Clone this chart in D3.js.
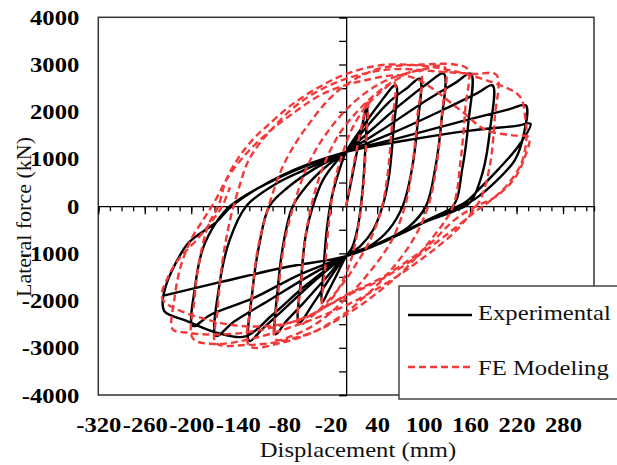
<!DOCTYPE html>
<html><head><meta charset="utf-8">
<script src="https://cdn.jsdelivr.net/npm/d3@7"></script>
<style>body{margin:0;background:#fff}</style>
</head><body><svg id="c" width="617" height="465"></svg>
<script>
const xTickLabels = [-320,-260,-200,-140,-80,-20,40,100,160,220,280];
const yTickLabels = [-4000,-3000,-2000,-1000,0,1000,2000,3000,4000];
const seriesNames = ["Experimental","FE Modeling"];

// Experimental hysteresis path [displacement mm, force kN]
const experimental = [
[0,0],[8,650],[17,1400],[27,2130],
[25,1300],[21,300],[15,-450],[7,-900],[0,-1060],[-12,-1450],[-23,-1800],[-31,-2040],
[-29,-1300],[-25,-500],[-19,150],[-10,700],[0,1150],[20,1650],[42,2150],[64,2560],
[61,1600],[55,600],[47,0],[35,-500],[18,-850],[0,-1060],[-20,-1500],[-42,-2050],[-61,-2470],
[-58,-1500],[-52,-600],[-43,0],[-30,550],[-15,900],[0,1150],[25,1650],[55,2200],[80,2520],[95,2700],
[92,1700],[84,700],[73,0],[55,-500],[30,-850],[0,-1060],[-25,-1500],[-55,-2050],[-78,-2450],[-91,-2715],
[-88,-1700],[-80,-700],[-69,0],[-50,450],[-25,850],[0,1150],[35,1650],[70,2150],[105,2600],[126,2806],
[123,1800],[115,800],[103,0],[80,-450],[45,-760],[0,-1060],[-35,-1500],[-75,-2100],[-108,-2600],[-125,-2855],
[-121,-1800],[-112,-800],[-99,0],[-75,400],[-40,800],[0,1150],[45,1600],[95,2150],[140,2600],[161,2806],
[158,1800],[150,800],[138,0],[100,-350],[50,-740],[0,-1060],[-45,-1450],[-100,-2000],[-145,-2450],[-168,-2750],
[-164,-1700],[-150,-700],[-129,0],[-90,480],[-45,830],[0,1150],[60,1550],[120,2000],[170,2400],[189,2558],
[186,1650],[176,700],[160,80],[140,-100],[100,-350],[50,-740],[0,-1060],[-60,-1450],[-120,-1950],[-175,-2300],[-198,-2537],
[-195,-1700],[-185,-900],[-168,-350],[-150,0],[-82,640],[0,1150],[70,1450],[150,1800],[210,2050],[232,2134],
[229,1500],[218,980],[195,550],[168,170],[150,0],[90,-414],[47,-768],[0,-1060],[-50,-1650],[-95,-2300],[-130,-2760],[-165,-2690],[-206,-2430],[-234,-2240],
[-237,-2060],[-233,-1700],[-224,-1334],[-203,-768],[-168,-343],[-147,10],[-82,660],[0,1150],[80,1400],[160,1600],[220,1700],[238,1745],
[223,1285],[197,789],[172,365],[154,82],[130,-100],[90,-414],[47,-768],[0,-1060],[-80,-1300],[-160,-1600],[-237,-1900]
];

// FE model hysteresis path [displacement mm, force kN]
const feModeling = [
[0,0],[10,900],[20,1700],[28,2250],
[26,1400],[22,400],[16,-400],[7,-1100],[-5,-1600],[-18,-1950],[-30,-2150],
[-27,-1300],[-22,-300],[-15,500],[-5,1100],[8,1650],[25,2100],[45,2420],[62,2620],
[59,1700],[53,600],[45,-100],[30,-750],[12,-1250],[0,-1550],[-20,-1950],[-42,-2300],[-61,-2520],
[-58,-1600],[-52,-600],[-42,200],[-28,900],[-8,1550],[20,2100],[55,2580],[95,2860],
[92,1900],[85,800],[76,0],[58,-750],[30,-1400],[0,-1950],[-35,-2450],[-70,-2750],[-91,-2820],
[-88,-1900],[-80,-800],[-68,0],[-50,850],[-25,1550],[10,2200],[50,2650],[100,2900],[127,2950],
[124,2000],[117,900],[106,0],[85,-750],[50,-1500],[15,-2050],[0,-2250],[-40,-2650],[-85,-2900],[-125,-2960],
[-122,-2000],[-114,-900],[-100,0],[-80,900],[-50,1700],[-10,2450],[40,2900],[100,3000],[140,3000],[157,2900],
[154,2100],[148,1000],[138,0],[110,-700],[75,-1350],[35,-1900],[0,-2300],[-40,-2650],[-90,-2880],[-130,-2940],[-168,-2900],
[-166,-2200],[-160,-1200],[-150,-300],[-140,300],[-125,1000],[-95,1650],[-55,2250],[0,2700],[60,2900],[120,2850],[165,2800],[194,2780],
[192,1900],[186,900],[175,200],[168,0],[140,-550],[95,-1150],[50,-1650],[0,-2100],[-60,-2500],[-120,-2800],[-170,-2920],[-198,-2800],
[-196,-2000],[-190,-1200],[-178,-400],[-165,0],[-155,555],[-138,1049],[-120,1420],[-103,1684],[-70,2150],[-34,2530],[0,2800],[47,2990],[110,2950],[165,2750],[205,2520],[220,2392],[227,2250],
[231,1900],[233,1470],[226,900],[208,450],[185,100],[168,-100],[130,-600],[80,-1200],[40,-1600],[0,-1900],[-60,-2400],[-120,-2650],[-170,-2720],[-205,-2680],[-224,-2608],
[-222,-2000],[-214,-1300],[-200,-700],[-183,-250],[-168,150],[-155,550],[-135,1000],[-105,1500],[-70,1950],[-30,2380],[20,2650],[82,2744],[147,2038],[180,1614],[215,1500],[236,1460],
[232,1100],[218,600],[193,200],[168,0],[140,-290],[104,-858],[48,-1494],[0,-1881],[-60,-2411],[-120,-2550],[-180,-2400],[-237,-1970],
[-230,-1500],[-215,-1100],[-195,-750],[-175,-350],[-160,0],[-150,400]
];

const svg = d3.select("#c");
const L = 98.3, R = 594, T = 17.3, B = 395;
const x = d3.scaleLinear().domain([-320,320]).range([L,R]);
const y = d3.scaleLinear().domain([-4000,4000]).range([B,T]);
const serif = "'Liberation Serif','Times New Roman',serif";
const STRETCH = 1.12;
function stretch(sel){
  sel.each(function(){
    const w = this.getComputedTextLength();
    d3.select(this).attr("textLength", w*STRETCH).attr("lengthAdjust","spacingAndGlyphs");
  });
}

// plot border
svg.append("rect").attr("x",L).attr("y",T).attr("width",R-L).attr("height",B-T)
  .attr("fill","#fff").attr("stroke","#333").attr("stroke-width",1.5);

// x axis line at F=0 with ticks
const minorX = d3.range(-320, 321, 15);
const gxMinor = svg.append("g").attr("transform",`translate(0,${y(0)})`)
  .call(d3.axisBottom(x).tickValues(minorX).tickSize(5).tickFormat(""));
const gxMajor = svg.append("g").attr("transform",`translate(0,${y(0)})`)
  .call(d3.axisBottom(x).tickValues(xTickLabels).tickSize(8).tickFormat(""));
[gxMinor,gxMajor].forEach(g=>{g.selectAll("line").attr("stroke","#000").attr("stroke-width",1.3);});
gxMajor.select(".domain").remove();
gxMinor.select(".domain").attr("stroke","#000").attr("stroke-width",1.3);

// y axis line at d=0 with ticks
const minorY = d3.range(-4000, 4001, 500);
const gy = svg.append("g").attr("transform",`translate(${x(0)},0)`)
  .call(d3.axisLeft(y).tickValues(minorY).tickSize(7).tickFormat(""));
gy.selectAll("line").attr("stroke","#000").attr("stroke-width",1.3);
gy.select(".domain").attr("stroke","#000").attr("stroke-width",1.3);

// tick labels
const gxl = svg.append("g").attr("transform",`translate(0,${B})`)
  .call(d3.axisBottom(x).tickValues(xTickLabels).tickSize(0).tickPadding(21).tickFormat(d=>d));
gxl.select(".domain").remove();
gxl.selectAll("text").attr("font-family",serif).attr("font-weight","bold").attr("font-size",22).attr("fill","#000").call(stretch);

const gyl = svg.append("g").attr("transform",`translate(${L},0)`)
  .call(d3.axisLeft(y).tickValues(yTickLabels).tickSize(0).tickPadding(19).tickFormat(d=>d));
gyl.select(".domain").remove();
gyl.selectAll("text").attr("font-family",serif).attr("font-weight","bold").attr("font-size",22).attr("fill","#000").call(stretch);

// curves
const line = d3.line().x(d=>x(d[0])).y(d=>y(d[1])).curve(d3.curveCatmullRom.alpha(0.5));
svg.append("path").datum(experimental).attr("d",line).attr("fill","none")
  .attr("stroke","#000").attr("stroke-width",2.4).attr("stroke-linejoin","round");
svg.append("path").datum(feModeling).attr("d",line).attr("fill","none")
  .attr("stroke","#f23a3a").attr("stroke-width",2.4).attr("stroke-dasharray","7,4");

// axis titles
svg.append("text").attr("x",358).attr("y",457).attr("text-anchor","middle")
  .attr("font-family",serif).attr("font-size",22).attr("fill","#111").text("Displacement (mm)").call(stretch);
svg.append("text").attr("transform","translate(31,217) rotate(-90)").attr("text-anchor","middle")
  .attr("font-family",serif).attr("font-size",22).attr("fill","#111").text("Lateral force (kN)");

// legend
const lg = svg.append("g");
lg.append("rect").attr("x",399).attr("y",286).attr("width",230).attr("height",113)
  .attr("fill","#fff").attr("stroke","#444").attr("stroke-width",1.5);
lg.append("line").attr("x1",408).attr("x2",472).attr("y1",315).attr("y2",315)
  .attr("stroke","#000").attr("stroke-width",2.4);
lg.append("line").attr("x1",408).attr("x2",472).attr("y1",367).attr("y2",367)
  .attr("stroke","#f23a3a").attr("stroke-width",2.4).attr("stroke-dasharray","7,4");
lg.append("text").attr("x",478).attr("y",320).attr("font-family",serif).attr("font-size",22).attr("fill","#111").text(seriesNames[0]).call(stretch);
lg.append("text").attr("x",478).attr("y",375).attr("font-family",serif).attr("font-size",22).attr("fill","#111").text(seriesNames[1]).call(stretch);
</script></body></html>
